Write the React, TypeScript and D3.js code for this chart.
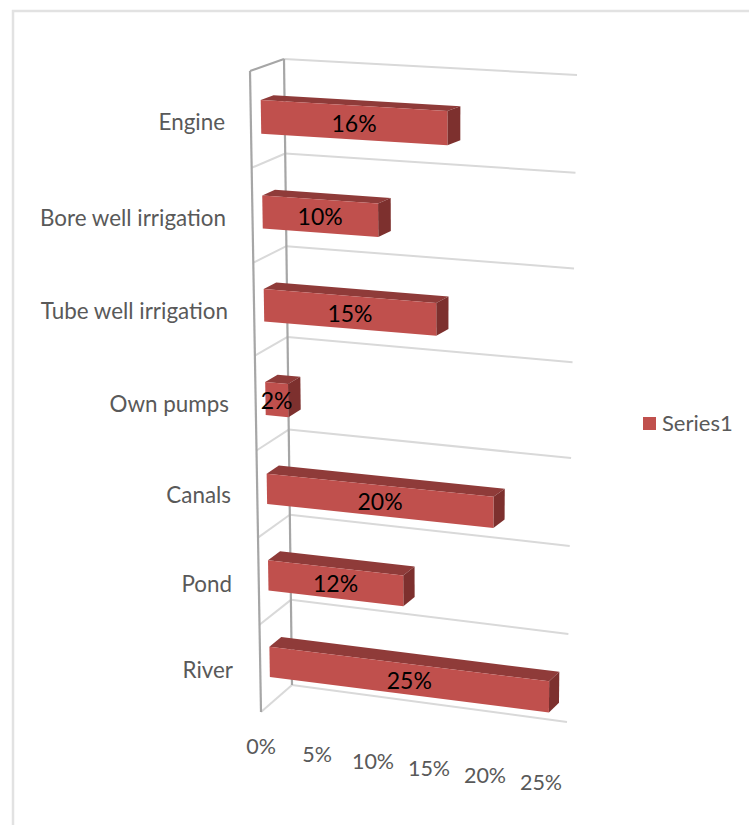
import React from "react";
import * as d3 from "d3";

const categories = ["River", "Pond", "Canals", "Own pumps", "Tube well irrigation", "Bore well irrigation", "Engine"];
const values = [25, 12, 20, 2, 15, 10, 16];
const valueTicks = [0, 5, 10, 15, 20, 25];
const seriesName = "Series1";

const FONT = "Lato, 'Open Sans', sans-serif";
const RED = "#c0504d";
const RED_TOP = "#8f3b39";
const RED_SIDE = "#7d302e";
const GRID = "#d9d9d9";
const AXIS = "#a6a6a6";
const TEXT = "#595959";

// Corners of the 3D plot box on screen. Rows run bottom to top, depth front to back.
// Rows get slightly taller toward the top because of the perspective.
const rows = categories.length;
const rowEdges = [0, 0.136, 0.272, 0.408, 0.556, 0.701, 0.849, 1];
const rowT = d3.scaleLinear().domain(d3.range(rows + 1)).range(rowEdges);
const span = d3.scaleLinear().domain([0, 1]);
const frontLeft = { x: span.copy().range([261, 250]), y: span.copy().range([712, 71]) };
const backLeft = { x: span.copy().range([292, 284]), y: span.copy().range([685, 59]) };
const frontRight = { x: span.copy().range([541, 542]), y: span.copy().range([748, 87]) };
const backRight = { x: span.copy().range([567, 577]), y: span.copy().range([722, 75]) };

const valueT = d3.scaleLinear().domain([0, 25]).range([0, 1]);
const lerp = (a: number, b: number, t: number) => a + (b - a) * t;

function project(value: number, row: number, depth: number): [number, number] {
  const t = valueT(value);
  const r = rowT(row);
  const lx = lerp(frontLeft.x(r), backLeft.x(r), depth);
  const ly = lerp(frontLeft.y(r), backLeft.y(r), depth);
  const rx = lerp(frontRight.x(r), backRight.x(r), depth);
  const ry = lerp(frontRight.y(r), backRight.y(r), depth);
  return [lerp(lx, rx, t), lerp(ly, ry, t)];
}

const poly = (pts: [number, number][]) => pts.map((p) => p.join(",")).join(" ");

const BAR_LOW = 0.31;
const BAR_HIGH = 0.66;
const DEPTH_FRONT = 0.3;
const DEPTH_BACK = 0.68;

const labelY = [672, 586, 497, 406, 313, 220, 124];
const labelX = [233, 232, 231, 229, 228, 226, 225];

export default function App() {
  return (
    <svg width={749} height={825} style={{ position: "absolute", left: 0, top: 0, background: "#fff" }}>
      <path d="M13,825 V11 H749" fill="none" stroke="#e2e2e2" strokeWidth={2.5} />

      {d3.range(rows + 1).map((r) => {
        const a = project(0, r, 0);
        const b = project(0, r, 1);
        const c = project(25, r, 1);
        return (
          <g key={r}>
            <line x1={a[0]} y1={a[1]} x2={b[0]} y2={b[1]} stroke={r === rows ? AXIS : GRID} strokeWidth={2} />
            <line x1={b[0]} y1={b[1]} x2={c[0]} y2={c[1]} stroke={GRID} strokeWidth={2} />
          </g>
        );
      })}
      <line x1={project(0, 0, 0)[0]} y1={project(0, 0, 0)[1]} x2={project(0, rows, 0)[0]} y2={project(0, rows, 0)[1]} stroke={AXIS} strokeWidth={2.2} />
      <line x1={project(0, 0, 1)[0]} y1={project(0, 0, 1)[1]} x2={project(0, rows, 1)[0]} y2={project(0, rows, 1)[1]} stroke={AXIS} strokeWidth={2.2} />

      {categories.map((name, i) => {
        const v = values[i];
        const lo = i + BAR_LOW;
        const hi = i + BAR_HIGH;
        const fa = project(0, hi, DEPTH_FRONT);
        const fb = project(v, hi, DEPTH_FRONT);
        const fc = project(v, lo, DEPTH_FRONT);
        const fd = project(0, lo, DEPTH_FRONT);
        const ta = project(0, hi, DEPTH_BACK);
        const tb = project(v, hi, DEPTH_BACK);
        const sc = project(v, lo, DEPTH_BACK);
        const cx = (fa[0] + fb[0]) / 2;
        const cy = (fa[1] + fb[1] + fc[1] + fd[1]) / 4;
        return (
          <g key={name}>
            <polygon points={poly([fa, ta, tb, fb])} fill={RED_TOP} />
            <polygon points={poly([fb, tb, sc, fc])} fill={RED_SIDE} />
            <polygon points={poly([fa, fb, fc, fd])} fill={RED} />
            <text x={cx} y={cy + 3.5} textAnchor="middle" dominantBaseline="middle" fontFamily={FONT} fontSize={23} fill="#000">
              {v}%
            </text>
            <text x={labelX[i]} y={labelY[i]} textAnchor="end" dominantBaseline="middle" fontFamily={FONT} fontSize={22.4} fill={TEXT}>
              {name}
            </text>
          </g>
        );
      })}

      {valueTicks.map((t) => {
        const [x, y] = project(t, 0, 0);
        return (
          <text key={t} x={x} y={y + 37} textAnchor="middle" dominantBaseline="middle" fontFamily={FONT} fontSize={21.5} fill={TEXT}>
            {t}%
          </text>
        );
      })}

      <rect x={643} y={417} width={13} height={13} fill={RED} />
      <text x={662} y={425} dominantBaseline="middle" fontFamily={FONT} fontSize={22} fill={TEXT}>
        {seriesName}
      </text>
    </svg>
  );
}
